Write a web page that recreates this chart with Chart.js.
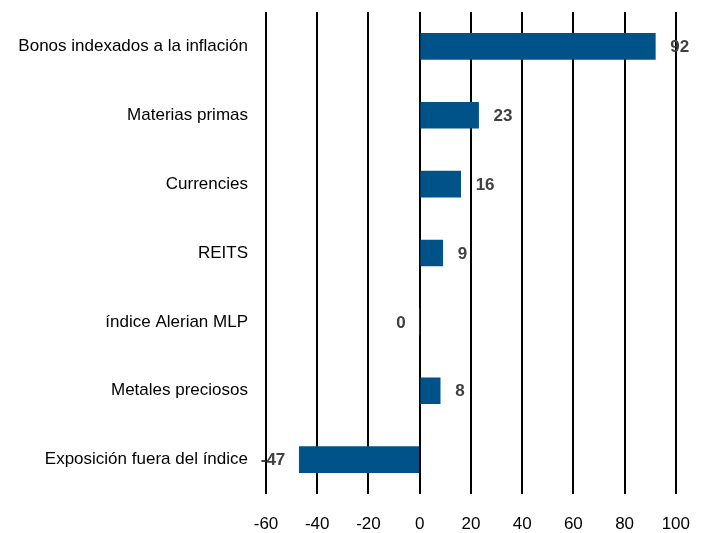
<!DOCTYPE html>
<html>
<head>
<meta charset="utf-8">
<script src="https://cdn.jsdelivr.net/npm/chart.js@4.4.1/dist/chart.umd.min.js"></script>
<style>
  html, body { margin: 0; padding: 0; background: #fff; }
  #wrap { width: 710px; height: 533px; }
</style>
</head>
<body>
<div id="wrap"><canvas id="chart"></canvas></div>
<script>
// values
const categories = [
    'Bonos indexados a la inflación',
    'Materias primas',
    'Currencies',
    'REITS',
    'índice Alerian MLP',
    'Metales preciosos',
    'Exposición fuera del índice'
];
const values = [92, 23, 16, 9, 0, 8, -47];
const xTicks = [-60, -40, -20, 0, 20, 40, 60, 80, 100];

const FONT = "'Liberation Sans Narrow', 'Arial Narrow', 'Liberation Sans', Arial, sans-serif";

// draw the value next to the end of each bar
const valueLabels = {
    id: 'valueLabels',
    afterDatasetsDraw(chart) {
        const ctx = chart.ctx;
        const meta = chart.getDatasetMeta(0);
        ctx.save();
        ctx.font = 'bold 17px ' + FONT;
        ctx.fillStyle = '#404040';
        ctx.textBaseline = 'middle';
        meta.data.forEach((bar, i) => {
            const v = values[i];
            if (v > 0) {
                ctx.textAlign = 'left';
                ctx.fillText(String(v), bar.x + 15, bar.y + 1);
            } else {
                ctx.textAlign = 'right';
                ctx.fillText(String(v), bar.x - 14, bar.y + 1);
            }
        });
        ctx.restore();
    }
};

const ctx = document.getElementById('chart').getContext('2d');
new Chart(ctx, {
    type: 'bar',
    data: {
        labels: categories,
        datasets: [{
            data: values,
            backgroundColor: '#005388',
            borderWidth: 0,
            barThickness: 26
        }]
    },
    options: {
        indexAxis: 'y',
        responsive: true,
        maintainAspectRatio: false,
        animation: false,
        layout: { padding: { top: 12, right: 28, left: 0, bottom: 0 } },
        plugins: {
            legend: { display: false },
            tooltip: { enabled: false }
        },
        scales: {
            x: {
                min: -60,
                max: 100,
                afterBuildTicks(scale) {
                    scale.ticks = xTicks.map(v => ({ value: v }));
                },
                grid: {
                    color: '#000',
                    lineWidth: 2,
                    drawTicks: false
                },
                border: { display: false },
                afterFit(scale) { scale.height = 39; },
                ticks: {
                    color: '#000',
                    padding: 20,
                    font: { family: FONT, size: 17 }
                }
            },
            y: {
                grid: { display: false },
                border: { display: false },
                afterFit(scale) {
                    scale.width = 266;
                    scale.paddingTop = 0;
                    scale.paddingBottom = 0;
                },
                ticks: {
                    color: '#000',
                    padding: 10,
                    font: { family: FONT, size: 17 }
                }
            }
        }
    },
    plugins: [valueLabels]
});
</script>
</body>
</html>
